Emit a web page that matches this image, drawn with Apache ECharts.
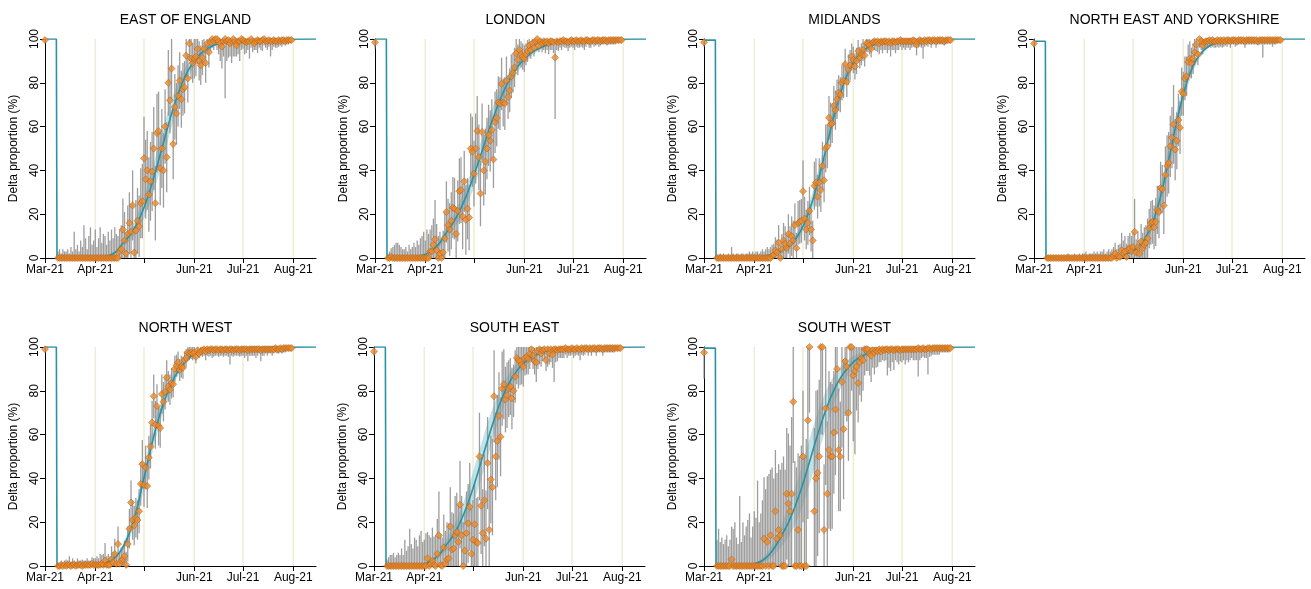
<!DOCTYPE html>
<html><head><meta charset="utf-8">
<script src="https://cdn.jsdelivr.net/npm/echarts@6/dist/echarts.min.js"></script>
<style>html,body{margin:0;padding:0;background:#fff}#c{width:1311px;height:589px}</style>
</head><body><div id="c"></div>
<script>
// ---- axis / category data ----
const regionNames = ['EAST OF ENGLAND','LONDON','MIDLANDS','NORTH EAST AND YORKSHIRE','NORTH WEST','SOUTH EAST','SOUTH WEST'];
const tickDays = [0, 31, 61, 92, 122, 153];            // days since 1 Mar 2021
const tickLabels = ['Mar-21', 'Apr-21', '', 'Jun-21', 'Jul-21', 'Aug-21'];
const gridDays = [31, 61, 92, 122, 153];
const xMax = 167;
const yTitle = 'Delta proportion (%)';
const firstDay = 8;      // first day of the daily series
const dropDay = 7;
const fitDays = [8,20,28,32,36,40,44,48,52,56,60,64,68,72,76,80,84,88,92,96,100,104,108,112,120,130,167];

// ---- day-0 points and start levels ----
const day0Pts = [99.5, 98.5, 98.5, 98, 99, 98, 97.5];
const day0Ci = [1, 3, 2, 2, 1, 2, 12];
const startLevels = [100, 100, 99.5, 99, 100, 100, 99.5];

// ---- EAST OF ENGLAND ----
const eoePts = [0,0,0,0,0,0,0,0,0,0, 0,0,0,0,0,0,0,0,0,0, 0,0,0,0,0,0,0,0,0,0, 0,0,0,0,0,0,0,0,
3,4,13,8,2,11,16,12,24,2.5,12.5,17,14.5,25,26,45.5,36,40,29,35,39.5,50,25,57,58,41,50,40,60,46,80,72,86.5,52,69,66,74,81,72.5,77,78,92.5,82,98,91,89,91,92,95.5,90,88,91.5,95.5,89,98,94,98.5,100,99,100,
100,99,98,96.5,99,100,99,99.5,98,99,100,99,97,99,99,100,99.5,99,98.5,99,99,100,99,98,99,99.5,99,99,99.5,100,99,99,99.5,99,99,99.5,99,99,99.5,99,99.5,99.5,99,99.5,99.5,99.5,99.5];
const eoeCi = [3,4,2,4,3,3,4,2,5,3,12,4,6,3,8,5,15,9,4,10,14,6,8,13,5,9,14,7,11,10,6,12,8,13,9,14,11,10,
10,11,14,13,10,13,14,13,16,12,14,15,14,16,17,19,18,18,17,18,18,19,17,18,18,17,18,17,17,16,15,15,14,16,15,14,14,13,13,12,12,10,11,8,9,9,9,9,7,9,9,8,7,9,5,7,4,4,4,3,
5,6,8,10,7,27,9,8,6,10,8,7,5,6,9,5,4,6,5,4,8,4,5,3,4,6,3,4,5,3,3,4,3,7,4,3,3,3,3,2,3,2,2,2,2,1,1];
const eoeFit = [0,0,0.1,0.3,0.6,1.3,3,6.7,10,14.7,21.1,29.3,39.2,50,60.8,70.7,78.9,85.3,90,93.3,95.6,97.1,98.1,98.8,99.5,99.8,100];
const eoeBand = [0,0,0,0.1,0.2,0.4,0.8,1.8,2.5,3.5,4.7,5.8,6.7,7,6.7,5.8,4.7,3.5,2.5,1.8,1.2,0.8,0.5,0.3,0.1,0.1,0];

// ---- LONDON ----
const lonPts = [0,0,0.5,0,0,0,0,0,0,0, 0,0,0,0,0,0,0,0,0,0, 0,0,0,0,0,0,
3,3,6,8.5,3.5,0,2,0,2.5,9,21,15,13,17,23,22.5,11,21.5,30.5,31,19,35,17.5,22.5,18.5,50,48.5,38.5,50,58,46,29.5,57.5,40,44,50,56,53.5,58.5,45,62,64,71,70.5,79.5,71,70.5,81,73.5,76.5,83,84.5,87,93.5,90.5,95,93,92,91,93,94.5,97,95,98,96,99,100,97,99,
98,99,98.5,99,98,99,99,98.5,91.5,99,98.5,99,99,99.5,99,99,98.5,99,99.5,99,99,99.5,99,99,99.5,99,99,99.5,99.5,99,99,99.5,99.5,99,99.5,99.5,99,99.5,99.5,99.5,99,99.5,99.5,99.5,99.5,99.5,99.5,99.5,99.5,99.5];
const lonCi = [2,3,4,5,6,7,7,6,5,4,4,5,3,6,4,5,7,5,8,6,9,10,12,8,13,11,
10,12,12,18,12,10,10,9,10,12,14,12,12,13,14,14,12,14,15,15,15,14,16,14,15,16,16,15,16,16,15,15,13,16,15,14,14,14,14,13,14,13,12,12,12,11,12,11,10,10,10,9,9,8,7,7,6,6,6,5,5,5,4,4,4,3,3,3,3,
4,4,5,4,5,4,4,5,28,4,4,3,4,3,3,3,4,3,3,3,4,3,3,3,3,3,4,3,2,3,3,2,3,2,2,3,2,2,2,2,2,2,2,2,2,2,1,1,1,1];
const lonFit = [0,0.3,1,2,4,7,11.6,15.9,21.3,27.9,35.7,44.3,53.4,62.2,70.2,77.2,82.9,87.4,90.9,93.5,95.3,96.7,97.7,98.4,99.2,99.7,100];
const lonBand = [0,0.1,0.2,0.5,0.9,1.6,2.5,3.2,4,4.8,5.5,5.9,6,5.6,5,4.2,3.4,2.6,2,1.5,1.1,0.8,0.5,0.4,0.2,0.1,0];

// ---- MIDLANDS ----
const midPts = [0,0,0,0,0,0,0,0,0,0, 0,0,0,0,0,0,0,0,0,0, 0,0,0,0,0,0,0,0,0,0, 0,0,0,0,
1,1.5,3.5,2.5,7,0,4,8,6.5,4.5,11,6.5,10,8,15,4.5,16,16.5,17,30.5,18,13,16,21.5,13,8,33,34.5,28,34.5,31,42,35.5,50,51,64,61,61.5,69.5,67.5,72.5,75.5,74.5,80,81,88.5,80.5,86,88,92,90.5,87.5,90,94.5,91.5,93,95,92.5,98,98,97,95.5,98.5,
99,98.5,99,98,99,98.5,99,99,98.5,99,98,99,99,98.5,99,99,99.5,99,99,99,99,99,99,99,99.5,99,97.5,99,99.5,99,99,99.5,99,99.5,99.5,99,99.5,99.5,99,99.5,99.5,99.5,99.5,99,99.5,99.5,99.5,99.5];
const midCi = [1,1,2,1,2,1,1,2,1,5,2,1,2,2,1,2,2,1,2,2,3,2,3,2,3,3,2,3,4,3,4,5,4,5,
5,5,6,6,8,6,7,8,8,7,9,8,9,9,10,7,10,10,10,14,10,9,10,11,10,9,11,11,10,11,10,11,10,11,10,10,10,9,9,9,9,8,8,8,8,7,7,7,7,6,6,6,6,5,5,5,5,5,4,4,4,4,3,
4,4,5,5,4,5,4,4,5,4,6,4,4,5,4,4,3,4,3,4,3,3,4,3,3,3,5,3,3,3,8,3,2,3,2,3,2,2,3,2,2,2,2,2,2,1,1,1];
const midFit = [0,0.1,0.3,0.5,0.7,1.2,2,3.3,5.2,8.3,13,19.8,28.9,40.1,52.5,64.6,75,83.2,89.1,93.1,95.7,97.3,98.4,99,99.6,99.9,100];
const midBand = [0,0,0.1,0.1,0.1,0.2,0.4,0.6,1,1.5,2.3,3.2,4.1,4.8,5,4.6,3.8,2.8,1.9,1.3,0.8,0.5,0.3,0.2,0.1,0,0];

// ---- NORTH EAST AND YORKSHIRE ----
const neyPts = [0,0,0,0,0,0,0,0,0,0, 0,0,0,0,0,0,0,0,0,0, 0,0,0,0,0,0,0,0,0,0, 0,0,0,0,0,0,0,0,0,0, 0,
1,2,0,1,0.5,3.5,2,3,0.5,4,4.5,3,5,12,2.5,5,2,7.5,4.5,6,7,9,13.5,16,16.5,14,16.5,22,21,32,31.5,24,38,42,43.5,51,55,61,49.5,53.5,63,59.5,76,75,82,83,89.5,91,89,91,94,97.5,93,100,99,97,98.5,99,99,
99.5,99,99.5,99,99,99.5,99,99.5,99,99.5,99,99.5,99.5,99,99.5,99.5,99.5,99,99.5,99.5,99.5,99.5,99,99.5,99.5,99.5,99.5,99.5,99.5,99.5,99,99.5,99.5,99.5,99.5,99.5,99.5,99.5,99.5,99.5,99.5,99.5,99.5,99.5,99.5];
const neyCi = [1,1,1,1,1,1,1,1,1,1,1,1,1,2,1,1,1,2,1,1,2,1,2,2,3,1,2,2,2,3,2,3,2,3,3,4,2,3,4,3,4,
4,5,4,5,6,8,6,7,6,6,7,7,7,15,6,7,6,8,7,8,8,9,9,10,10,10,11,11,12,12,11,13,13,14,14,14,14,18,14,13,12,12,11,10,10,9,8,8,7,7,6,5,5,4,4,4,3,3,3,
3,3,3,3,3,3,3,3,3,3,2,3,2,3,2,2,3,2,2,2,2,2,3,2,2,2,2,2,2,2,2,2,2,8,2,2,2,2,2,3,2,2,1,1,1];
const neyFit = [0,0,0,0.05,0.1,0.2,0.3,0.5,0.9,1.6,2.8,4.9,8.4,14.1,22.6,34.3,48.3,62.5,74.8,84.1,90.5,94.4,96.8,98.2,99.4,99.9,100];
const neyBand = [0,0,0,0,0,0,0.1,0.1,0.2,0.4,0.6,1,1.7,2.7,3.9,5,5.5,5.2,4.1,2.9,1.9,1.2,0.7,0.4,0.1,0,0];

// ---- NORTH WEST ----
const nwPts = [0,0,0.5,0,0.5,0,0.5,0.5,0,0.5, 0.5,0,0.5,0.5,0.5,0,0.5,0.5,0.5,0.5, 0.5,1,0.5,
0.5,0.5,0.5,0.5,1,0.5,2.5,0.5,0.5,0.5,3,1.5,5.5,1,10,1,2.5,3,4.5,0.5,10,17,29,21,18.5,22,21,25,37.5,46.5,37,45,36.5,49.5,54.5,65.5,77.5,64.5,73,64,63,78.5,75,79.5,86,82,80.5,83.5,83,90,91.5,93,89.5,91,90.5,94,95,97.5,97,97.5,97,97.5,95.5,98.5,97,98,
98.5,99,98,99,98.5,99,99,98.5,99,99,98.5,99,99,98.5,99,99,98.5,99,99,98.5,99,99,99,98.5,99,99,99,99,98.5,99,99,99,99,99,99,99,98.5,99,99,99,99,99,99,99,99,99.5,99,99,99.5,99,99.5,99.5,99.5,99.5,99.5,99.5];
const nwCi = [1,1,2,1,2,3,2,4,2,3,2,2,3,2,2,3,2,2,3,2,2,3,3,
3,4,3,5,4,5,8,4,5,4,6,5,7,5,8,5,6,6,7,6,8,9,10,9,9,9,9,10,10,11,10,10,10,10,10,10,10,11,10,9,9,9,9,8,8,7,7,7,6,6,5,5,5,5,5,4,4,4,3,3,3,3,3,3,2,2,
3,3,4,3,3,3,4,3,3,3,3,3,3,3,3,3,3,7,3,3,3,3,3,3,3,3,4,3,5,3,3,3,3,4,3,2,5,3,3,2,3,2,2,3,2,2,2,2,2,2,2,2,1,1,1,1];
const nwFit = [0,0.1,0.3,0.6,1.2,2.3,4.5,8.5,15,24,37,50,62,72,80,86.5,91,94.5,96.8,98.2,99,99.4,99.6,99.7,99.8,99.9,100];
const nwBand = [0,0,0.1,0.1,0.2,0.5,0.9,1.6,2.6,3.6,4.7,5,4.7,4,3.2,2.3,1.6,1,0.6,0.4,0.2,0.1,0.1,0.1,0,0,0];

// ---- SOUTH EAST ----
const sePts = [0,0,0,0,0,0,0,0,0,0, 0,0,0,0,0,0,0,0,0,0, 0,0,0,0,0,
3.5,0,1,2.5,0.5,0,5.5,14,0.5,0,8.5,1,3,3.5,18,7.5,8,14,15.5,11,28,14,0,7,15,19.5,27,5.5,12,19,11,10.5,50,27.5,15,30,12.5,47,16.5,39.5,36,77.5,50,57,68.5,59,81,83,76,78,81,82,76.5,80,86.5,95,94,93.5,92,91,95,95.5,94.5,97,99,96,93.5,93,98,99,97,98.5,99,94,99,97,99,96.5,
99,99,98.5,99,99,99,99,99.5,99,99,99,99.5,99,99,99.5,99,99,99.5,99,99.5,99.5,99,99.5,99,99.5,99.5,99,99.5,99.5,99.5,99,99.5,99.5,99.5,99.5,99.5,99.5,99.5,99.5,99.5,99.5,99.5];
const seCi = [3,4,5,5,6,4,5,6,5,8,5,12,7,9,17,10,8,13,12,9,14,16,11,12,15,
12,14,12,15,13,14,16,20,14,13,15,15,17,16,18,17,16,18,18,17,20,18,20,18,19,18,20,21,18,19,20,21,20,22,20,21,22,21,22,20,22,21,20,21,20,18,17,16,15,15,13,13,14,12,12,12,13,11,9,9,8,8,7,7,6,6,6,9,8,7,6,5,5,5,8,5,6,6,
15,6,5,4,4,4,4,3,4,3,3,3,4,3,3,3,5,3,3,3,2,3,2,3,2,2,3,2,2,2,3,2,2,2,2,2,2,2,1,1,1,1];
const seFit = [0,0.1,0.5,1.2,2.8,5,9.1,13,18.2,25,33.2,42.6,52.5,62.2,71.1,78.6,84.6,89.1,92.4,94.8,96.4,97.6,98.4,98.9,99.5,99.8,100];
const seBand = [0,0,0.2,0.4,0.9,1.5,2.6,3.6,4.8,6,7.1,7.8,8,7.5,6.6,5.4,4.2,3.1,2.2,1.6,1.1,0.8,0.5,0.4,0.2,0.1,0];

// ---- SOUTH WEST ----
const swPts = [0,0,0,0,0,0,0,0,0,3, 0,0,0,0,0,0,0,0,0,0, 0,0,0,0,0,0,0,0,
0,12.5,0,11,0,14,0,0,25,12.5,16.5,14,0,0,0,33,28.5,25,33,75,0,0,16.5,0,0,50,0,0,66.5,100,null,null,25,40,42.5,50,100,100,16.5,72,33,53,50,50,61,71.5,90,53,50,84,62.5,93.5,91,70,100,100,87,89,91,83.5,93,95,94,99,99,99,97,96,98.5,97.5,98.5,98,99,98,99,98.5,99,
99,98.5,99,99,98.5,99,99,99,98.5,99,99,99,99,99,99,99,99,99,99,99.5,99,99,99.5,99,99,99.5,99.5,99,99.5,99.5,99.5,99.5,99.5,99.5,99.5,99.5,99.5,99.5,99.5,99.5];
const swCi = [12,17,11,13,10,12,14,9,12,15,17,20,13,10,32,11,20,14,18,21,24,13,18,25,22,39,20,24,
30,28,35,30,42,30,45,40,28,30,30,30,47,50,44,30,32,30,35,28,48,45,35,50,55,30,50,58,45,30,null,null,38,40,38,35,40,40,30,35,33,36,34,33,28,30,30,28,25,30,32,25,25,22,30,20,30,38,20,18,15,20,14,12,10,10,10,12,8,10,8,7,6,5,5,5,5,
12,8,10,6,9,5,6,7,5,6,5,7,5,6,5,4,5,5,5,13,5,4,4,4,4,12,4,3,3,3,3,3,3,2,2,2,2,2,2,1];
const swFit = [0,0.1,0.5,1.2,2.5,5,9,14.2,19.8,26.9,35.4,45,55,64.6,73.1,80.2,85.8,90,93.1,95.3,96.8,97.8,98.5,99,99.5,99.8,100];
const swBand = [0,0,0.2,0.5,1,2,3.4,5.1,6.7,8.3,9.6,10.4,10.4,9.6,8.3,6.7,5.1,3.8,2.7,1.9,1.3,0.9,0.6,0.4,0.2,0.1,0];

const allPts = [eoePts, lonPts, midPts, neyPts, nwPts, sePts, swPts];
const allCi = [eoeCi, lonCi, midCi, neyCi, nwCi, seCi, swCi];
const allFit = [eoeFit, lonFit, midFit, neyFit, nwFit, seFit, swFit];
const allBand = [eoeBand, lonBand, midBand, neyBand, nwBand, seBand, swBand];

// ---- layout & style ----
const FONT = '"Liberation Sans", Arial, sans-serif';
const TEAL = '#2a93a3';
const lefts = [45, 375, 704, 1034, 45, 374, 704];
const tops = [39, 39, 39, 39, 347, 347, 347];
const titleTops = [8, 8, 8, 8, 316, 316, 316];
const W = 271, H = 219;

const grid = [], xAxis = [], yAxis = [], title = [], series = [];
regionNames.forEach((name, k) => {
  grid.push({ left: lefts[k], top: tops[k], width: W, height: H });
  xAxis.push({
    gridIndex: k, type: 'value', min: 0, max: xMax,
    axisLine: { show: true, onZero: false, lineStyle: { color: '#000', width: 1 } },
    axisTick: { show: true, length: 5, customValues: tickDays, lineStyle: { color: '#000' } },
    axisLabel: { customValues: tickDays, formatter: v => { const i = tickDays.indexOf(v); return i >= 0 ? tickLabels[i] : ''; },
      color: '#000', fontSize: 12, fontFamily: FONT, margin: 6 },
    splitLine: { show: false }
  });
  yAxis.push({
    gridIndex: k, type: 'value', min: 0, max: 100, interval: 20,
    name: yTitle, nameLocation: 'middle', nameGap: 25,
    nameTextStyle: { color: '#000', fontSize: 12, fontFamily: FONT },
    axisLine: { show: true, lineStyle: { color: '#000', width: 1 } },
    axisTick: { show: true, length: 5, lineStyle: { color: '#000' } },
    axisLabel: { rotate: 90, color: '#000', fontSize: 12, fontFamily: FONT, margin: 4 },
    splitLine: { show: false }
  });
  title.push({ text: name, left: lefts[k] + W / 2, top: titleTops[k], textAlign: 'center',
    textStyle: { fontSize: 14, fontWeight: 'normal', color: '#000', fontFamily: FONT } });

  // month gridlines
  series.push({
    type: 'custom', xAxisIndex: k, yAxisIndex: k, silent: true, z: 0,
    data: gridDays.map(d => [d]),
    renderItem: (p, api) => {
      const a = api.coord([api.value(0), 0]), b = api.coord([api.value(0), 100]);
      return { type: 'line', shape: { x1: a[0], y1: a[1], x2: b[0], y2: b[1] }, style: { stroke: '#eeedd9', lineWidth: 1.5 } };
    }
  });

  // ribbon
  const fit = allFit[k], band = allBand[k];
  series.push({
    type: 'custom', xAxisIndex: k, yAxisIndex: k, silent: true, z: 1,
    data: [[fitDays[0], fit[0]]],
    renderItem: (p, api) => {
      const up = [], dn = [];
      for (let i = 0; i < fitDays.length; i++) {
        up.push(api.coord([fitDays[i], Math.min(100, fit[i] + band[i])]));
        dn.push(api.coord([fitDays[i], Math.max(0, fit[i] - band[i])]));
      }
      return { type: 'polygon', shape: { points: up.concat(dn.reverse()), smooth: 0.2 }, style: { fill: 'rgba(110,185,198,0.42)' } };
    }
  });

  // error bars and points
  const pts = allPts[k], ci = allCi[k];
  const err = [[0, Math.max(0, day0Pts[k] - day0Ci[k]), Math.min(100, day0Pts[k] + day0Ci[k])]];
  const sc = [[0, day0Pts[k]]];
  pts.forEach((v, i) => {
    if (v === null || v === undefined) return;
    const d = firstDay + i;
    err.push([d, Math.max(0, v - ci[i]), Math.min(100, v + ci[i])]);
    sc.push([d, v]);
  });
  series.push({
    type: 'custom', xAxisIndex: k, yAxisIndex: k, silent: true, z: 2,
    data: err, encode: { x: 0, y: [1, 2] },
    renderItem: (p, api) => {
      const x = api.value(0);
      const a = api.coord([x, api.value(1)]), b = api.coord([x, api.value(2)]);
      return { type: 'line', shape: { x1: a[0], y1: a[1], x2: b[0], y2: b[1] }, style: { stroke: 'rgba(140,140,140,0.85)', lineWidth: 1.3 } };
    }
  });

  // fitted line
  series.push({
    type: 'line', xAxisIndex: k, yAxisIndex: k, silent: true, z: 3,
    data: [[0, startLevels[k]], [dropDay, startLevels[k]], [dropDay + 0.4, 0], [firstDay, fit[0]]],
    symbol: 'none', lineStyle: { color: TEAL, width: 1.6 }
  });
  series.push({
    type: 'line', xAxisIndex: k, yAxisIndex: k, silent: true, z: 3,
    data: fitDays.map((d, i) => [d, fit[i]]), smooth: 0.25,
    symbol: 'none', lineStyle: { color: TEAL, width: 1.6 }
  });

  series.push({
    type: 'scatter', xAxisIndex: k, yAxisIndex: k, silent: true, z: 4, clip: false,
    data: sc, symbol: 'diamond', symbolSize: 7,
    itemStyle: { color: '#ec8b2c', borderColor: '#a65a15', borderWidth: 0.6 }
  });
});

const chart = echarts.init(document.getElementById('c'));
chart.setOption({ animation: false, backgroundColor: '#fff', title, grid, xAxis, yAxis, series });
</script>
</body></html>
